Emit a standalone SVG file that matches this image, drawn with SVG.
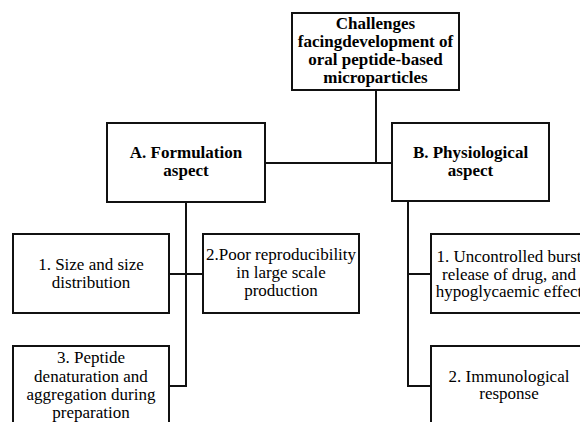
<svg xmlns="http://www.w3.org/2000/svg" width="580" height="422" viewBox="0 0 580 422">
<style>
.box{fill:#fff;stroke:#111;stroke-width:2}
.ln{fill:none;stroke:#111;stroke-width:2}
text{font-family:'Liberation Serif','Times New Roman','DejaVu Serif',serif;font-size:17px;fill:#000;text-anchor:middle}
.b{font-weight:bold}
</style>
<rect width="580" height="422" fill="#fff"/>
<g id="connectors">
<path class="ln" d="M376 90V163M265 163H392"/>
<path class="ln" d="M186 202V386H169M169 274H203"/>
<path class="ln" d="M408 201V386H431M408 274H431"/>
</g>
<g id="root">
<rect class="box" x="292" y="13" width="167" height="77"/>
<text class="b" x="375.5" y="29">Challenges</text>
<text class="b" x="375.5" y="47">facingdevelopment of</text>
<text class="b" x="375.5" y="65">oral peptide-based</text>
<text class="b" x="375.5" y="83">microparticles</text>
</g>
<g id="A">
<rect class="box" x="107" y="123" width="158" height="79"/>
<text class="b" x="186" y="158">A. Formulation</text>
<text class="b" x="186" y="176">aspect</text>
</g>
<g id="B">
<rect class="box" x="392" y="123" width="157" height="78"/>
<text class="b" x="470.5" y="158">B. Physiological</text>
<text class="b" x="470.5" y="176">aspect</text>
</g>
<g id="A1">
<rect class="box" x="13" y="234" width="156" height="79"/>
<text x="91" y="270">1. Size and size</text>
<text x="91" y="288">distribution</text>
</g>
<g id="A2">
<rect class="box" x="203" y="234" width="156" height="79"/>
<text x="281" y="260">2.Poor reproducibility</text>
<text x="281" y="278">in large scale</text>
<text x="281" y="296">production</text>
</g>
<g id="A3">
<rect class="box" x="13" y="346" width="156" height="90"/>
<text x="91" y="363">3. Peptide</text>
<text x="91" y="381.5">denaturation and</text>
<text x="91" y="400">aggregation during</text>
<text x="91" y="417.5">preparation</text>
</g>
<g id="B1">
<rect class="box" x="431" y="234" width="156" height="79"/>
<text x="509" y="262">1. Uncontrolled burst</text>
<text x="509" y="280">release of drug, and</text>
<text x="509" y="297">hypoglycaemic effect</text>
</g>
<g id="B2">
<rect class="box" x="431" y="346" width="156" height="90"/>
<text x="509" y="381.5">2. Immunological</text>
<text x="509" y="399">response</text>
</g>
</svg>
